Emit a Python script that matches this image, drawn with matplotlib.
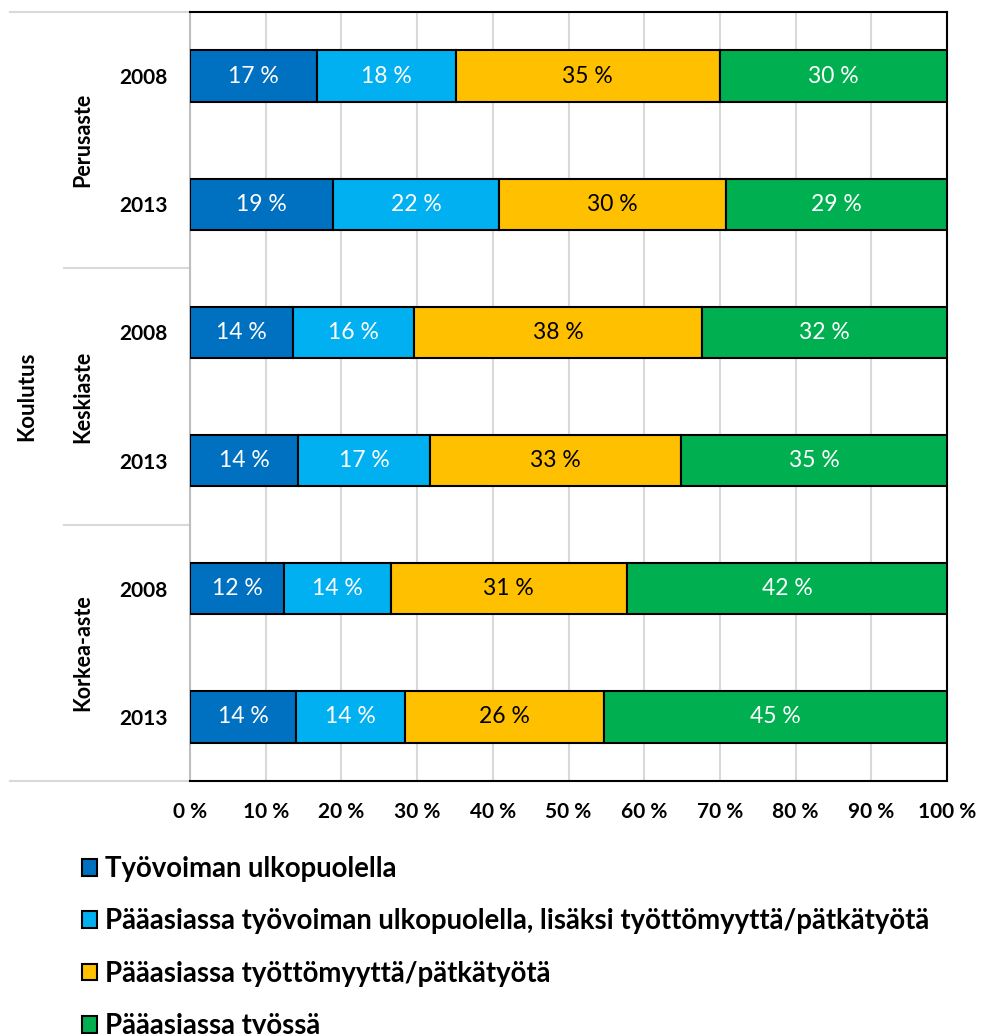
import numpy as np
import matplotlib
matplotlib.use("Agg")
import matplotlib.pyplot as plt
import matplotlib.ticker as mtick

plt.rcParams['font.family'] = ['Lato', 'DejaVu Sans']

# Data
groups = ["Perusaste", "Keskiaste", "Korkea-aste"]
years = ["2008", "2013"]
series = ["Työvoiman ulkopuolella",
          "Pääasiassa työvoiman ulkopuolella, lisäksi työttömyyttä/pätkätyötä",
          "Pääasiassa työttömyyttä/pätkätyötä",
          "Pääasiassa työssä"]
# rows: Perusaste 2008, 2013, Keskiaste 2008, 2013, Korkea-aste 2008, 2013
ulkopuolella = [16.8, 18.9, 13.6, 14.3, 12.4, 14.0]
lisaksi = [18.3, 21.9, 16.0, 17.4, 14.1, 14.4]
patkatyo = [34.9, 30.0, 38.0, 33.2, 31.2, 26.3]
tyossa = [30.0, 29.2, 32.4, 35.1, 42.3, 45.3]
axis_title = "Koulutus"

colors = ["#0070C0", "#00B0F0", "#FFC000", "#00B050"]
text_colors = ["white", "white", "black", "white"]

W, H = 981, 1034
fig = plt.figure(figsize=(W / 100, H / 100), dpi=100)
L, R, T, B = 190, 947, 12, 781
ax = fig.add_axes([L / W, 1 - B / H, (R - L) / W, (B - T) / H])

data = [ulkopuolella, lisaksi, patkatyo, tyossa]
n = len(ulkopuolella)
y = np.arange(n)
left = np.zeros(n)
for vals, col, tc, lab in zip(data, colors, text_colors, series):
    vals = np.array(vals)
    ax.barh(y, vals, left=left, height=0.4, color=col, edgecolor="black",
            linewidth=1.5, label=lab, zorder=3)
    for yi, l, v in zip(y, left, vals):
        ax.text(l + v / 2, yi, f"{round(v)} %", ha="center", va="center",
                color=tc, fontsize=16.5, zorder=4)
    left += vals

ax.set_xlim(0, 100)
ax.set_ylim(n - 0.5, -0.5)
ax.xaxis.set_major_locator(mtick.MultipleLocator(10))
ax.xaxis.set_major_formatter(mtick.FuncFormatter(lambda v, p: f"{int(v)} %"))
ax.grid(True, axis="x", color="#D9D9D9", linewidth=1.5, zorder=0)
ax.tick_params(axis="x", length=0, pad=15, labelsize=15)
ax.tick_params(axis="y", length=0, pad=16, labelsize=15)
for t in ax.get_xticklabels():
    t.set_fontweight("bold")
ax.set_yticks(y)
ax.set_yticklabels(years * len(groups), fontweight="bold")

for s in ["top", "right", "bottom"]:
    ax.spines[s].set_color("black")
    ax.spines[s].set_linewidth(1.5)
ax.spines["left"].set_color("#BFBFBF")
ax.spines["left"].set_linewidth(1.5)

# hierarchical axis labels
tr = ax.get_yaxis_transform()
px = lambda x: (x - L) / (R - L)
for gi, g in enumerate(groups):
    ax.text(px(83), 2 * gi + 0.5, g, rotation=90, ha="center", va="center",
            fontsize=15.5, fontweight="bold", transform=tr)
    if gi > 0:
        ax.plot([px(64), 0], [2 * gi - 0.5] * 2, color="#D9D9D9", lw=1.5,
                transform=tr, clip_on=False)
for yy in [-0.5, n - 0.5]:
    ax.plot([px(10), 0], [yy, yy], color="#D9D9D9", lw=1.5,
            transform=tr, clip_on=False)
ax.text(px(27), (n - 1) / 2, axis_title, rotation=90, ha="center", va="center",
        fontsize=16, fontweight="bold", transform=tr)

fig.legend(loc="upper left", bbox_to_anchor=(71 / W, 1 - 845 / H), frameon=False,
           ncol=1, prop={"size": 19.8, "weight": "bold"}, handlelength=0.55,
           handleheight=0.55, handletextpad=0.3, labelspacing=0.96, borderaxespad=0)

fig.savefig("out.png", dpi=100)
